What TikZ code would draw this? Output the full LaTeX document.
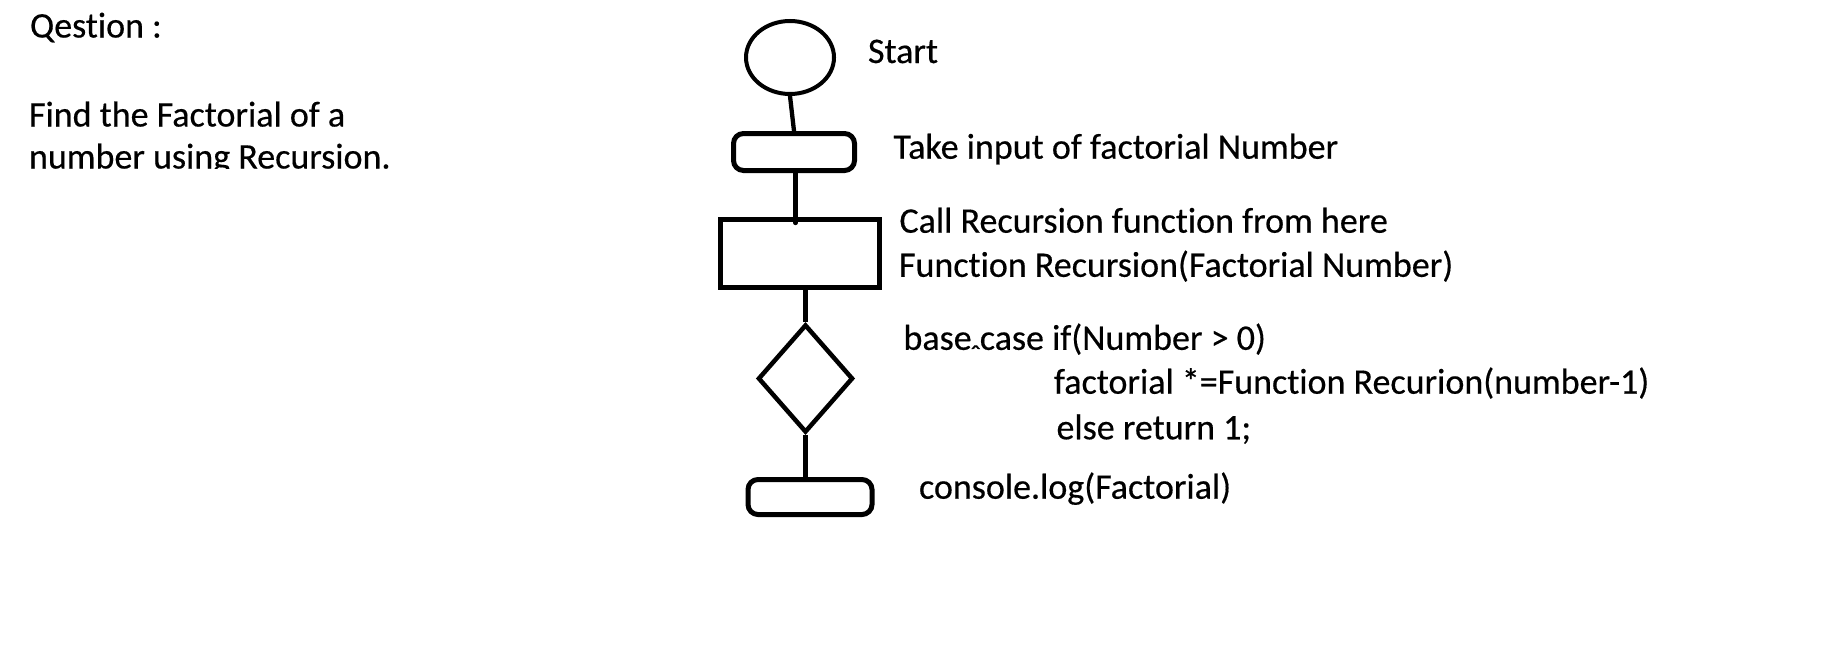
\documentclass[tikz,border=0pt]{standalone}
\usepackage{fontspec}
\setmainfont[Ligatures=NoCommon, FakeBold=0.4]{Carlito}
\usetikzlibrary{shapes.geometric}
\begin{document}
\begin{tikzpicture}[x=1pt,y=-1pt,
  txt/.style={anchor=base west, inner sep=0pt, outer sep=0pt, text=black,
    font=\fontsize{36pt}{44pt}\selectfont},
  lefttxt/.style={txt, font=\fontsize{36pt}{42pt}\selectfont},
  termbox/.style={draw=black, rounded corners=10pt, line width=5pt, inner sep=0pt},
  procbox/.style={draw=black, line width=5pt, inner sep=0pt},
  startcirc/.style={draw=black, ellipse, line width=4pt, inner sep=0pt},
  decbox/.style={draw=black, diamond, line width=4.5pt, inner sep=0pt},
  link/.style={draw=black, line width=4.3pt}]
\fill[white] (0,0) rectangle (1825,664);
\useasboundingbox (0,0) rectangle (1825,664);

% question text
\node[lefttxt] (qhead) at (30,37.5) {Qestion :};
\begin{scope}
  \clip (0,0) rectangle (700,168);
  \node[lefttxt] (qline1) at (29,126.5) {Find the Factorial of a};
  \node[lefttxt] (qline2) at (29,168.5) {number using Recursion.};
\end{scope}

% flowchart shapes
\node[startcirc, minimum width=88pt, minimum height=73pt] (start) at (790,57.5) {};
\node[termbox, minimum width=121pt, minimum height=37pt] (input) at (794,152) {};
\node[procbox, minimum width=159pt, minimum height=68.3pt] (call) at (800.2,253.3) {};
\node[decbox, minimum width=95pt, minimum height=108pt] (dec) at (805.5,378.5) {};
\node[termbox, minimum width=124pt, minimum height=35pt] (out) at (810,497) {};

% connectors
\coordinate (callin) at (795.5,223);
\draw[link] (start.south) -- (input.north);
\draw[link, line cap=round] (callin |- input.south) -- (callin);
\draw[link] (dec.north |- call.south) -- (dec.north);
\draw[link] (dec.south) -- (dec.south |- out.north);

% labels
\node[txt] (lstart) at (868,63) {Start};
\node[txt] (linput) at (893.5,158.7) {Take input of factorial Number};
\node[txt] (lcall1) at (899.5,232.7) {Call Recursion function from here};
\node[txt] (lcall2) at (899,276.8) {Function Recursion(Factorial Number)};
\node[txt] (ldec1) at (903.5,349.8) {base\makebox[\fontdimen2\font][c]{\raisebox{-15pt}{\scalebox{0.8}{ˆ}}}case if(Number > 0)};
\node[txt] (ldec2) at (1054,393.7) {factorial *=Function Recurion(number-1)};
\node[txt] (ldec3) at (1056.5,439.3) {else return 1;};
\node[txt] (lout) at (919,498.7) {console.log(Factorial)};
\end{tikzpicture}
\end{document}
